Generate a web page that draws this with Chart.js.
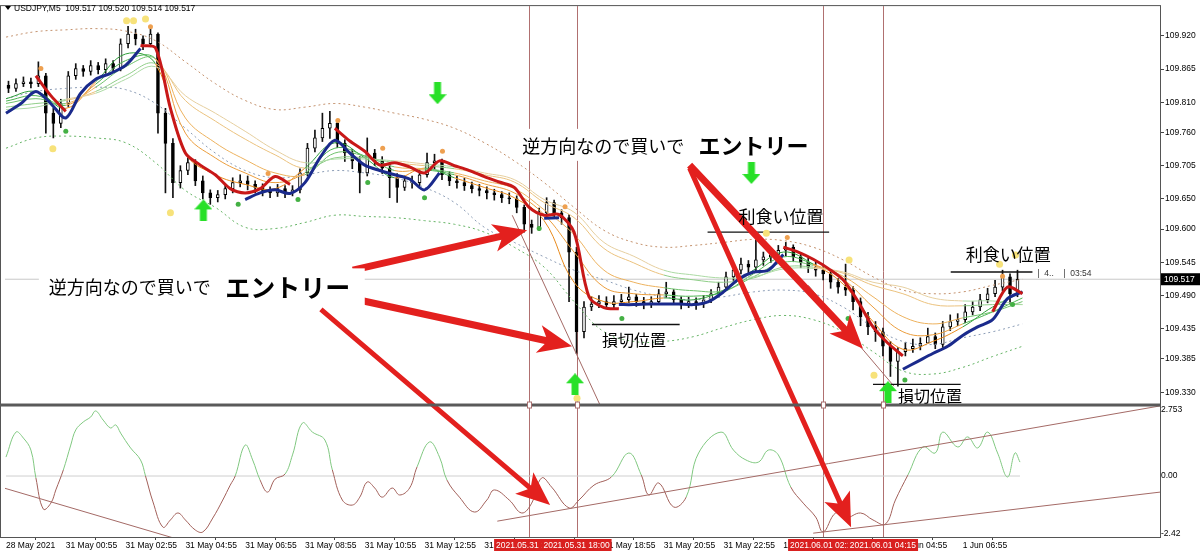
<!DOCTYPE html>
<html lang="ja">
<head>
<meta charset="UTF-8">
<title>USDJPY,M5</title>
<script src="https://cdn.jsdelivr.net/npm/chart.js@4.4.0/dist/chart.umd.min.js"></script>
<style>
    html, body { margin: 0; padding: 0; background: #fff; }
    canvas { display: block; }
</style>
</head>
<body>
<canvas id="chart" width="1200" height="554"></canvas>
<script>
// x values are M5 bar numbers counted from the first bar (28 May 2021)
// one candle every 15 minutes
const candleOpen = [109.838,109.833,109.841,109.844,109.841,109.854,109.792,109.775,109.808,109.854,
    109.866,109.861,109.871,109.864,109.874,109.866,109.907,109.923,109.915,109.907,
    109.923,109.792,109.742,109.677,109.697,109.710,109.680,109.660,109.652,109.657,
    109.667,109.677,109.680,109.674,109.669,109.664,109.660,109.667,109.660,109.665,
    109.693,109.734,109.751,109.767,109.775,109.742,109.726,109.713,109.693,109.726,
    109.713,109.701,109.685,109.669,109.680,109.677,109.690,109.710,109.713,109.690,
    109.680,109.677,109.672,109.667,109.664,109.660,109.657,109.652,109.650,109.636,
    109.608,109.603,109.627,109.644,109.627,109.619,109.562,109.430,109.471,109.476,
    109.480,109.475,109.480,109.483,109.488,109.480,109.476,109.480,109.493,109.496,
    109.483,109.476,109.480,109.476,109.483,109.493,109.504,109.521,109.532,109.542,
    109.537,109.549,109.554,109.558,109.565,109.570,109.554,109.545,109.537,109.532,
    109.526,109.512,109.504,109.499,109.480,109.455,109.438,109.430,109.406,109.381,
    109.397,109.402,109.406,109.411,109.422,109.409,109.438,109.447,109.450,109.463,
    109.471,109.483,109.493,109.504,109.521,109.493];
const candleHigh = [109.845,109.849,109.852,109.850,109.877,109.858,109.800,109.815,109.861,109.874,
    109.871,109.879,109.876,109.882,109.879,109.915,109.936,109.931,109.920,109.931,
    109.925,109.800,109.750,109.705,109.718,109.715,109.688,109.665,109.664,109.674,
    109.685,109.690,109.688,109.680,109.675,109.670,109.674,109.672,109.672,109.700,
    109.742,109.764,109.792,109.795,109.778,109.748,109.732,109.720,109.751,109.732,
    109.720,109.708,109.692,109.688,109.688,109.698,109.726,109.724,109.716,109.695,
    109.688,109.684,109.678,109.674,109.670,109.666,109.662,109.660,109.655,109.640,
    109.615,109.635,109.652,109.648,109.632,109.624,109.570,109.480,109.488,109.490,
    109.488,109.490,109.492,109.504,109.492,109.487,109.488,109.500,109.512,109.500,
    109.488,109.487,109.486,109.490,109.500,109.512,109.529,109.542,109.552,109.548,
    109.583,109.562,109.566,109.573,109.578,109.574,109.560,109.552,109.545,109.538,
    109.530,109.518,109.542,109.505,109.486,109.462,109.447,109.436,109.414,109.404,
    109.412,109.418,109.420,109.436,109.428,109.447,109.458,109.460,109.475,109.480,
    109.492,109.502,109.515,109.532,109.526,109.532];
const candleLow = [109.826,109.828,109.836,109.834,109.836,109.759,109.751,109.768,109.803,109.848,
    109.853,109.855,109.857,109.858,109.859,109.862,109.900,109.905,109.897,109.902,
    109.759,109.660,109.652,109.668,109.690,109.672,109.650,109.641,109.645,109.650,
    109.660,109.670,109.665,109.660,109.655,109.652,109.654,109.652,109.655,109.660,
    109.688,109.728,109.745,109.750,109.735,109.712,109.700,109.660,109.688,109.705,
    109.692,109.652,109.644,109.664,109.668,109.672,109.686,109.700,109.682,109.672,
    109.668,109.664,109.660,109.655,109.650,109.648,109.644,109.642,109.627,109.595,
    109.593,109.598,109.620,109.619,109.608,109.480,109.394,109.420,109.465,109.470,
    109.468,109.470,109.474,109.478,109.472,109.468,109.470,109.476,109.487,109.475,
    109.468,109.470,109.467,109.470,109.478,109.488,109.498,109.515,109.526,109.528,
    109.530,109.540,109.545,109.550,109.556,109.546,109.536,109.528,109.522,109.516,
    109.502,109.494,109.490,109.466,109.440,109.425,109.414,109.390,109.356,109.340,
    109.390,109.396,109.400,109.414,109.402,109.404,109.432,109.440,109.445,109.458,
    109.465,109.478,109.488,109.498,109.475,109.488];
const candleClose = [109.833,109.841,109.844,109.841,109.854,109.792,109.775,109.808,109.854,109.866,
    109.861,109.871,109.864,109.874,109.866,109.907,109.923,109.915,109.907,109.923,
    109.792,109.742,109.677,109.697,109.710,109.680,109.660,109.652,109.657,109.667,
    109.677,109.680,109.674,109.669,109.664,109.660,109.667,109.660,109.665,109.693,
    109.734,109.751,109.767,109.775,109.742,109.726,109.713,109.693,109.726,109.713,
    109.701,109.685,109.669,109.680,109.677,109.690,109.710,109.713,109.690,109.680,
    109.677,109.672,109.667,109.664,109.660,109.657,109.652,109.650,109.636,109.608,
    109.603,109.627,109.644,109.627,109.619,109.562,109.430,109.471,109.476,109.480,
    109.475,109.480,109.483,109.488,109.480,109.476,109.480,109.493,109.496,109.483,
    109.476,109.480,109.476,109.483,109.493,109.504,109.521,109.532,109.542,109.537,
    109.549,109.554,109.558,109.565,109.570,109.554,109.545,109.537,109.532,109.526,
    109.512,109.504,109.499,109.480,109.455,109.438,109.430,109.406,109.381,109.397,
    109.402,109.406,109.411,109.422,109.409,109.438,109.447,109.450,109.463,109.471,
    109.483,109.493,109.504,109.521,109.493,109.517];
const candleBar = candleClose.map((v, i) => 1 + 3 * i);

// thick lines, one value every 6 bars
const redLine = [null,null,109.854,109.821,109.795,null,null,null,null,109.904,
    109.900,109.800,109.726,109.706,109.690,109.667,109.660,109.667,109.687,109.674,
    null,null,109.767,109.746,109.729,109.706,109.710,109.703,109.693,109.713,
    109.705,109.697,109.687,109.678,109.669,109.636,109.623,109.624,109.595,109.488,
    109.470,109.468,null,null,null,null,null,null,null,null,
    null,null,109.570,109.562,109.550,109.535,109.516,109.480,109.438,109.411,
    109.390,null,null,null,null,null,109.463,109.504,109.493];
const blueLine = [109.792,109.808,109.828,109.808,109.784,109.825,109.848,109.858,109.871,109.899,
    null,null,null,null,null,null,109.649,109.660,109.665,109.659,
    109.677,109.718,109.747,109.726,109.706,109.697,109.690,109.683,109.665,109.693,
    null,null,null,null,null,null,109.618,109.619,null,null,
    null,109.475,109.475,109.476,109.476,109.476,109.475,109.480,109.496,109.517,
    109.529,109.532,109.558,null,null,null,null,null,null,null,
    109.368,109.381,109.394,109.406,109.424,109.438,109.450,109.485,109.496];
const lineBar = redLine.map((v, i) => 6 * i);

// ribbon and bands, one value every 12 bars
const ribbon1 = [109.816,109.828,109.800,109.844,109.890,109.874,109.726,109.690,109.674,109.667,109.701,109.743,109.718,109.685,109.701,109.685,109.669,109.652,109.614,109.512,109.480,109.480,109.486,109.483,109.499,109.532,109.562,109.542,109.509,109.447,109.401,109.414,109.438,109.471,109.496];
const ribbon2 = [109.812,109.821,109.805,109.840,109.879,109.882,109.759,109.718,109.693,109.677,109.693,109.734,109.721,109.697,109.698,109.690,109.675,109.660,109.624,109.562,109.504,109.493,109.491,109.489,109.496,109.526,109.554,109.542,109.517,109.471,109.430,109.425,109.443,109.463,109.486];
const ribbon3 = [109.808,109.816,109.808,109.835,109.869,109.882,109.784,109.743,109.715,109.693,109.690,109.726,109.721,109.703,109.700,109.693,109.680,109.667,109.632,109.591,109.532,109.512,109.503,109.498,109.498,109.521,109.545,109.540,109.522,109.488,109.455,109.443,109.453,109.463,109.480];
const ribbon4 = [109.802,109.808,109.813,109.828,109.854,109.874,109.813,109.779,109.749,109.723,109.701,109.718,109.718,109.710,109.705,109.700,109.690,109.678,109.644,109.619,109.568,109.544,109.524,109.516,109.512,109.519,109.537,109.537,109.527,109.507,109.493,109.475,109.473,109.475,109.475];
const ribbon5 = [109.798,109.802,109.815,109.825,109.848,109.869,109.821,109.792,109.762,109.731,109.710,109.716,109.716,109.713,109.708,109.703,109.693,109.682,109.649,109.628,109.578,109.555,109.532,109.524,109.519,109.521,109.534,109.535,109.529,109.512,109.504,109.486,109.481,109.481,109.475];
const ribbonUp = [1,1,0,1,1,0,0,0,0,0,1,1,1,0,1,0,0,0,0,0,0,0,1,1,1,1,1,0,0,0,0,0,1,1,1];
const bandUpper = [109.918,109.927,109.930,109.932,109.928,109.912,109.877,109.841,109.813,109.798,109.802,109.808,109.802,109.792,109.782,109.767,109.743,109.713,109.677,109.636,109.598,109.578,109.570,109.573,109.578,109.583,109.581,109.570,109.549,109.521,109.499,109.493,109.496,109.507,109.517];
const bandLower1 = [109.816,109.828,109.833,109.835,109.831,109.808,109.767,109.726,109.697,109.685,109.690,109.697,109.693,109.685,109.669,109.644,109.603,109.578,109.554,109.532,109.516,109.499,109.488,109.483,109.488,109.496,109.499,109.493,109.471,109.438,109.414,109.409,109.420,109.430,109.443];
const bandLower2 = [109.734,109.751,109.754,109.751,109.743,109.710,109.664,109.636,109.603,109.601,109.611,109.623,109.621,109.619,109.614,109.608,109.595,109.570,109.537,109.480,109.430,109.414,109.414,109.422,109.437,109.450,109.457,109.450,109.430,109.397,109.365,109.360,109.371,109.389,109.406];
const slowBar = ribbon1.map((v, i) => 12 * i);

// signal dots and arrows
const orangeDotBar = [14,58,105.2,133.2,151.2,175.2,224.4,313.6,400];
const orangeDotPrice = [109.866,109.935,109.692,109.780,109.734,109.729,109.637,109.586,109.522];
const yellowDotBar = [18.8,48.4,51.2,56,66,229.2,305.2,338.4,348.4,398.8,405.2];
const yellowDotPrice = [109.733,109.945,109.945,109.948,109.627,109.320,109.593,109.549,109.358,109.542,109.557];
const greenDotBar = [24,93.2,117.2,145.2,168,214,247.2,338,360.8,404];
const greenDotPrice = [109.762,109.641,109.649,109.677,109.652,109.601,109.452,109.452,109.350,109.475];
const buyArrowBar = [79.2,228.4,354];
const buyArrowPrice = [109.631,109.343,109.330];
const sellArrowBar = [173.2,299.2];
const sellArrowPrice = [109.825,109.693];

// oscillator in the lower window
const oscBar = [0,4,7,10,12,15,18,20,23,26,28,31,34,36,39,42,44,46,50,54,56,59,63,66,69,72,76,79,83,87,
    90,92,96,99,102,105,108,112,115,119,123,128,131,135,139,142,145,148,151,155,158,162,165,170,174,177,
    182,188,193,196,202,207,211,215,219,226,230,236,243,250,255,258,262,268,273,278,287,292,297,302,306,
    310,315,320,325,328,333,337,343,348,353,357,362,368,373,376,382,386,390,394,398,402,405,407];
const oscValue = [0.79,1.83,1.58,1.08,-0.08,-1.38,-1.13,-0.58,0.25,1.29,1.92,2.25,2.46,2.71,2.33,2.00,2.13,1.79,1.17,0.67,
    0.00,-1.08,-2.13,-1.83,-1.54,-1.83,-2.25,-2.33,-1.75,-1.00,-0.38,0.00,1.29,0.67,-0.17,-0.67,-0.13,0.08,0.88,2.21,
    1.83,1.50,0.25,-1.00,-1.21,-0.88,-0.25,-0.50,-0.88,-0.50,-0.79,-0.50,0.38,1.42,0.79,-0.17,-0.88,-1.50,-1.00,-0.58,
    -1.00,-1.54,-1.13,-0.08,-0.46,-1.33,-1.00,-0.38,-0.04,0.96,0.04,-0.79,-0.29,-1.29,-0.88,0.96,1.83,1.08,0.67,0.58,
    1.08,0.88,-0.46,-1.13,-1.71,-2.33,-1.54,-1.75,-1.54,-1.83,-2.00,-1.00,0.04,1.21,0.96,1.83,1.21,1.63,1.17,1.83,
    0.96,-0.04,0.96,0.58];

// drawn objects
const lastPrice = 109.517;
const levelFrom = [235.2,281.6,348,379.2];
const levelTo = [270.4,330.4,383.2,412];
const levelPrice = [109.442,109.595,109.343,109.529];
const trendMainFrom = [[203.2,109.623],[322,109.507]];
const trendMainTo = [[238.4,109.309],[356.4,109.340]];
const trendOscFrom = [[-0.8,-0.50],[197.2,-1.88],[324,-2.38]];
const trendOscTo = [[67.2,-2.58],[463.2,2.92],[463.2,-0.67]];
const vlineBars = [210,229,328,352];
const vlineLabels = ['2021.05.31 16:25','2021.05.31 18:00','2021.06.01 02:15','2021.06.01 04:15'];

// axes
const timeTickBars = [0,24,48,72,96,120,144,168,192,216,240,264,288,312,336,360,384];
const timeTickLabels = ['28 May 2021','31 May 00:55','31 May 02:55','31 May 04:55','31 May 06:55','31 May 08:55',
    '31 May 10:55','31 May 12:55','31 May 14:55','31 May 16:55','31 May 18:55','31 May 20:55','31 May 22:55',
    '1 Jun 00:55','1 Jun 02:55','1 Jun 04:55','1 Jun 06:55'];
const priceTicks = [109.920,109.865,109.810,109.760,109.705,109.650,109.600,109.545,109.490,109.435,109.385,109.330];
const oscTicks = [2.753,0,-2.42];
const oscTickLabels = ['2.753','0.00','-2.42'];

// notes written on the chart
const noteArrows = [
    {from: [139.2,109.532,'y'], to: [209.2,109.598,'y'], w: 7},
    {from: [141.2,109.483,'y'], to: [227.2,109.406,'y'], w: 7},
    {from: [126.4,109.467,'y'], to: [218.4,-1.21,'y2'], w: 5},
    {from: [274.4,109.706,'y'], to: [344,109.402,'y'], w: 7},
    {from: [274.4,109.701,'y'], to: [339.2,-2.13,'y2'], w: 5}
];
const noteBoxes = [[13.2,144,109.535,109.473],[204,324,109.766,109.713]];
const noteTexts = [
    {t: '逆方向なので買いで', bar: 17.2, price: 109.504, size: 18, bold: false},
    {t: 'エントリー', bar: 88, price: 109.504, size: 25, bold: true},
    {t: '逆方向なので買いで', bar: 207.2, price: 109.738, size: 18, bold: false},
    {t: 'エントリー', bar: 278, price: 109.738, size: 22, bold: true},
    {t: '損切位置', bar: 239.2, price: 109.417, size: 16, bold: false},
    {t: '利食い位置', bar: 294, price: 109.621, size: 17, bold: false},
    {t: '損切位置', bar: 358, price: 109.323, size: 16, bold: false},
    {t: '利食い位置', bar: 385.2, price: 109.558, size: 17, bold: false}
];

const FONT = '"Liberation Sans", Arial, sans-serif';
const JP = '"Noto Sans CJK JP", sans-serif';
const GREENS = ['#2f9e3a', '#4db452', '#6fc26c', '#8fce88', '#acdaa4'];
const ORANGES = ['#e88a1c', '#eb9d3c', '#edb25e', '#ebc27e', '#e6cf9f'];

function pts(xs, ys) { return xs.map((x, i) => ({x: x, y: ys[i]})); }

function arrowSprite(up) {
    const c = document.createElement('canvas');
    c.width = 18; c.height = 22;
    const g = c.getContext('2d');
    g.fillStyle = '#28e028';
    g.beginPath();
    if (up) {
        g.moveTo(9, 0); g.lineTo(18, 10); g.lineTo(12.5, 10); g.lineTo(12.5, 22);
        g.lineTo(5.5, 22); g.lineTo(5.5, 10); g.lineTo(0, 10);
    } else {
        g.moveTo(9, 22); g.lineTo(18, 12); g.lineTo(12.5, 12); g.lineTo(12.5, 0);
        g.lineTo(5.5, 0); g.lineTo(5.5, 12); g.lineTo(0, 12);
    }
    g.closePath(); g.fill();
    return c;
}

function drawArrow(ctx, x0, y0, x1, y1, w) {
    const ang = Math.atan2(y1 - y0, x1 - x0), len = Math.hypot(x1 - x0, y1 - y0);
    const hl = 34, hw = 28;
    ctx.save();
    ctx.translate(x0, y0); ctx.rotate(ang);
    ctx.beginPath();
    ctx.moveTo(0, -w / 2);
    ctx.lineTo(len - hl * 0.8, -w / 2);
    ctx.lineTo(len - hl, -hw / 2);
    ctx.lineTo(len, 0);
    ctx.lineTo(len - hl, hw / 2);
    ctx.lineTo(len - hl * 0.8, w / 2);
    ctx.lineTo(0, w / 2);
    ctx.closePath();
    ctx.fill();
    ctx.restore();
}

const datasets = [];
// candles
datasets.push({type: 'bar', order: 30, data: candleBar.map((b, i) => ({x: b, y: [candleLow[i], candleHigh[i]]})),
    backgroundColor: '#111', barThickness: 1, grouped: false, yAxisID: 'y'});
datasets.push({type: 'bar', order: 29, data: candleBar.map((b, i) => ({x: b, y: [candleOpen[i], candleClose[i]]})),
    backgroundColor: (c) => candleClose[c.dataIndex] >= candleOpen[c.dataIndex] ? '#fff' : '#000',
    borderColor: '#000', borderWidth: 1, borderSkipped: false, barThickness: 3, grouped: false, yAxisID: 'y'});
// current price line and oscillator zero level
datasets.push({type: 'line', order: 40, data: [{x: -1, y: lastPrice}, {x: 464, y: lastPrice}],
    borderColor: '#c8c8c8', borderWidth: 1, pointRadius: 0, yAxisID: 'y'});
datasets.push({type: 'line', order: 40, data: [{x: 0, y: 0}, {x: 407, y: 0}],
    borderColor: '#cfcfcf', borderWidth: 1, pointRadius: 0, yAxisID: 'y2'});
// bands
[[bandUpper, '#c4926e'], [bandLower1, '#8c9db6'], [bandLower2, '#66b466']].forEach(([arr, col]) => {
    datasets.push({type: 'line', order: 28, data: pts(slowBar, arr), borderColor: col, borderWidth: 1,
        borderDash: [2, 3], pointRadius: 0, tension: 0.4, yAxisID: 'y'});
});
// ribbon
[ribbon5, ribbon4, ribbon3, ribbon2, ribbon1].forEach((arr, k) => {
    const n = 4 - k;
    datasets.push({type: 'line', order: 27, data: pts(slowBar, arr), borderWidth: 1, pointRadius: 0, tension: 0.4,
        borderColor: GREENS[n],
        segment: {borderColor: (c) => ribbonUp[c.p0DataIndex] ? GREENS[n] : ORANGES[n]},
        yAxisID: 'y'});
});
// thick lines
datasets.push({type: 'line', order: 26, data: pts(lineBar, blueLine), borderColor: '#1a2a8c', borderWidth: 3,
    pointRadius: 0, tension: 0.3, spanGaps: false, yAxisID: 'y'});
datasets.push({type: 'line', order: 25, data: pts(lineBar, redLine), borderColor: '#c81818', borderWidth: 3,
    pointRadius: 0, tension: 0.3, spanGaps: false, yAxisID: 'y'});
// objects
levelPrice.forEach((p, i) => {
    datasets.push({type: 'line', order: 20, data: [{x: levelFrom[i], y: p}, {x: levelTo[i], y: p}],
        borderColor: '#111', borderWidth: 1.3, pointRadius: 0, yAxisID: 'y'});
});
trendMainFrom.forEach((f, i) => {
    datasets.push({type: 'line', order: 20, data: [{x: f[0], y: f[1]}, {x: trendMainTo[i][0], y: trendMainTo[i][1]}],
        borderColor: '#a46a66', borderWidth: 1, pointRadius: 0, yAxisID: 'y'});
});
// signal dots
datasets.push({type: 'scatter', order: 15, data: pts(yellowDotBar, yellowDotPrice), pointRadius: 3.5,
    backgroundColor: '#f7e27a', borderWidth: 0, yAxisID: 'y'});
datasets.push({type: 'scatter', order: 15, data: pts(orangeDotBar, orangeDotPrice), pointRadius: 2.5,
    backgroundColor: '#eea050', borderWidth: 0, yAxisID: 'y'});
datasets.push({type: 'scatter', order: 15, data: pts(greenDotBar, greenDotPrice), pointRadius: 2.5,
    backgroundColor: '#44b044', borderWidth: 0, yAxisID: 'y'});
datasets.push({type: 'scatter', order: 14, data: pts(buyArrowBar, buyArrowPrice), pointStyle: arrowSprite(true),
    yAxisID: 'y'});
datasets.push({type: 'scatter', order: 14, data: pts(sellArrowBar, sellArrowPrice), pointStyle: arrowSprite(false),
    yAxisID: 'y'});
// oscillator
datasets.push({type: 'line', order: 24, data: pts(oscBar, oscValue), borderWidth: 1, pointRadius: 0, tension: 0.4,
    borderColor: '#80c880',
    segment: {borderColor: (c) => (c.p0.parsed.y + c.p1.parsed.y) / 2 >= 0 ? '#80c880' : '#a2605a'},
    yAxisID: 'y2'});
trendOscFrom.forEach((f, i) => {
    datasets.push({type: 'line', order: 20, data: [{x: f[0], y: f[1]}, {x: trendOscTo[i][0], y: trendOscTo[i][1]}],
        borderColor: '#a46a66', borderWidth: 1, pointRadius: 0, yAxisID: 'y2'});
});

const extras = {
    id: 'extras',
    beforeDatasetsDraw(chart) {
        const {ctx, chartArea: a, scales: {x}} = chart;
        ctx.save();
        ctx.strokeStyle = '#b07070';
        ctx.lineWidth = 1;
        vlineBars.forEach((b) => {
            const px = Math.round(x.getPixelForValue(b)) + 0.5;
            ctx.beginPath(); ctx.moveTo(px, a.top); ctx.lineTo(px, a.bottom); ctx.stroke();
        });
        ctx.restore();
    },
    afterDatasetsDraw(chart) {
        const {ctx, scales} = chart;
        const at = (bar, v, axis) => [scales.x.getPixelForValue(bar), scales[axis].getPixelForValue(v)];
        ctx.save();
        // red arrows
        ctx.fillStyle = '#e3201e';
        noteArrows.forEach((n) => {
            const p0 = at(n.from[0], n.from[1], n.from[2]);
            const p1 = at(n.to[0], n.to[1], n.to[2]);
            drawArrow(ctx, p0[0], p0[1], p1[0], p1[1], n.w);
        });
        // white boxes behind the big notes
        ctx.fillStyle = '#fff';
        noteBoxes.forEach((b) => {
            const p0 = at(b[0], b[2], 'y'), p1 = at(b[1], b[3], 'y');
            ctx.fillRect(p0[0], p0[1], p1[0] - p0[0], p1[1] - p0[1]);
        });
        ctx.fillStyle = '#000';
        ctx.textAlign = 'left';
        ctx.textBaseline = 'middle';
        noteTexts.forEach((n) => {
            const p = at(n.bar, n.price, 'y');
            ctx.font = (n.bold ? 'bold ' : '') + n.size + 'px ' + JP;
            ctx.fillText(n.t, p[0], p[1]);
        });
        // indicator text beside the last bar
        ctx.font = '8.5px ' + FONT;
        ctx.fillStyle = '#333';
        const q = at(414, 109.526, 'y');
        ctx.fillText('|  4..    |  03:54', q[0], q[1]);
        ctx.restore();
    },
    afterDraw(chart) {
        const {ctx, chartArea: a, scales: {x, y}} = chart;
        ctx.save();
        // window frame and pane separator
        ctx.strokeStyle = '#555';
        ctx.lineWidth = 1;
        ctx.strokeRect(0.5, a.top - 0.5, a.right, a.bottom - a.top + 1);
        ctx.fillStyle = '#5a5a5a';
        ctx.fillRect(0, y.bottom - 1.5, a.right, 3);
        // handles of the vertical lines
        ctx.strokeStyle = '#a87070';
        vlineBars.forEach((b) => {
            const px = Math.round(x.getPixelForValue(b)) + 0.5;
            ctx.fillStyle = '#fff';
            ctx.fillRect(px - 2, y.bottom - 3, 4, 6);
            ctx.strokeRect(px - 2, y.bottom - 3, 4, 6);
        });
        // time labels of the vertical lines
        ctx.font = '8.5px ' + FONT;
        ctx.textAlign = 'left';
        ctx.textBaseline = 'middle';
        vlineBars.forEach((b, i) => {
            const px = x.getPixelForValue(b);
            const w = ctx.measureText(vlineLabels[i]).width + 4;
            ctx.fillStyle = '#d9201f';
            ctx.fillRect(px - w / 2, a.bottom + 2, w, 12);
            ctx.fillStyle = '#fff';
            ctx.fillText(vlineLabels[i], px - w / 2 + 2, a.bottom + 8.5);
        });
        // last price box
        const py = y.getPixelForValue(lastPrice);
        ctx.fillStyle = '#000';
        ctx.fillRect(a.right + 1, py - 6, 40, 12);
        ctx.fillStyle = '#fff';
        ctx.fillText(lastPrice.toFixed(3), a.right + 4, py + 0.5);
        // symbol header
        ctx.fillStyle = '#000';
        ctx.beginPath(); ctx.moveTo(5, 6); ctx.lineTo(11, 6); ctx.lineTo(8, 10); ctx.closePath(); ctx.fill();
        ctx.font = '8.5px ' + FONT;
        ctx.fillText('USDJPY,M5  109.517 109.520 109.514 109.517', 14, 8.5);
        ctx.restore();
    }
};

const tickFont = {family: FONT, size: 8.5};
new Chart(document.getElementById('chart'), {
    type: 'line',
    data: {datasets: datasets},
    options: {
        responsive: false,
        animation: false,
        events: [],
        layout: {padding: {top: 2, left: 1, right: 0, bottom: 0}},
        plugins: {legend: {display: false}, tooltip: {enabled: false}},
        scales: {
            x: {
                type: 'linear', position: 'bottom', min: -0.4, max: 463.2, offset: false,
                afterBuildTicks: (s) => { s.ticks = timeTickBars.map((v) => ({value: v})); },
                afterFit: (s) => { s.height = 17; },
                ticks: {callback: (v, i) => timeTickLabels[i], align: 'start', maxRotation: 0, autoSkip: false,
                    padding: 1, color: '#000', font: tickFont},
                grid: {drawOnChartArea: false, tickLength: 3, color: '#444'},
                border: {display: true, color: '#444'}
            },
            y: {
                type: 'linear', position: 'right', stack: 'panes', stackWeight: 402, offset: false,
                min: 109.3087, max: 109.9693,
                afterBuildTicks: (s) => { s.ticks = priceTicks.map((v) => ({value: v})); },
                afterFit: (s) => { s.width = 40; },
                ticks: {callback: (v) => v.toFixed(3), padding: 1, color: '#000', font: tickFont},
                grid: {drawOnChartArea: false, tickLength: 4, color: '#444'},
                border: {display: true, color: '#444'}
            },
            y2: {
                type: 'linear', position: 'right', stack: 'panes', stackWeight: 133, offset: false,
                min: -2.54, max: 2.958,
                afterBuildTicks: (s) => { s.ticks = oscTicks.map((v) => ({value: v})); },
                afterFit: (s) => { s.width = 40; },
                ticks: {callback: (v, i) => oscTickLabels[i], padding: 1, color: '#000', font: tickFont},
                grid: {drawOnChartArea: false, tickLength: 0, color: '#444'},
                border: {display: true, color: '#444'}
            }
        }
    },
    plugins: [extras]
});
</script>
</body>
</html>
